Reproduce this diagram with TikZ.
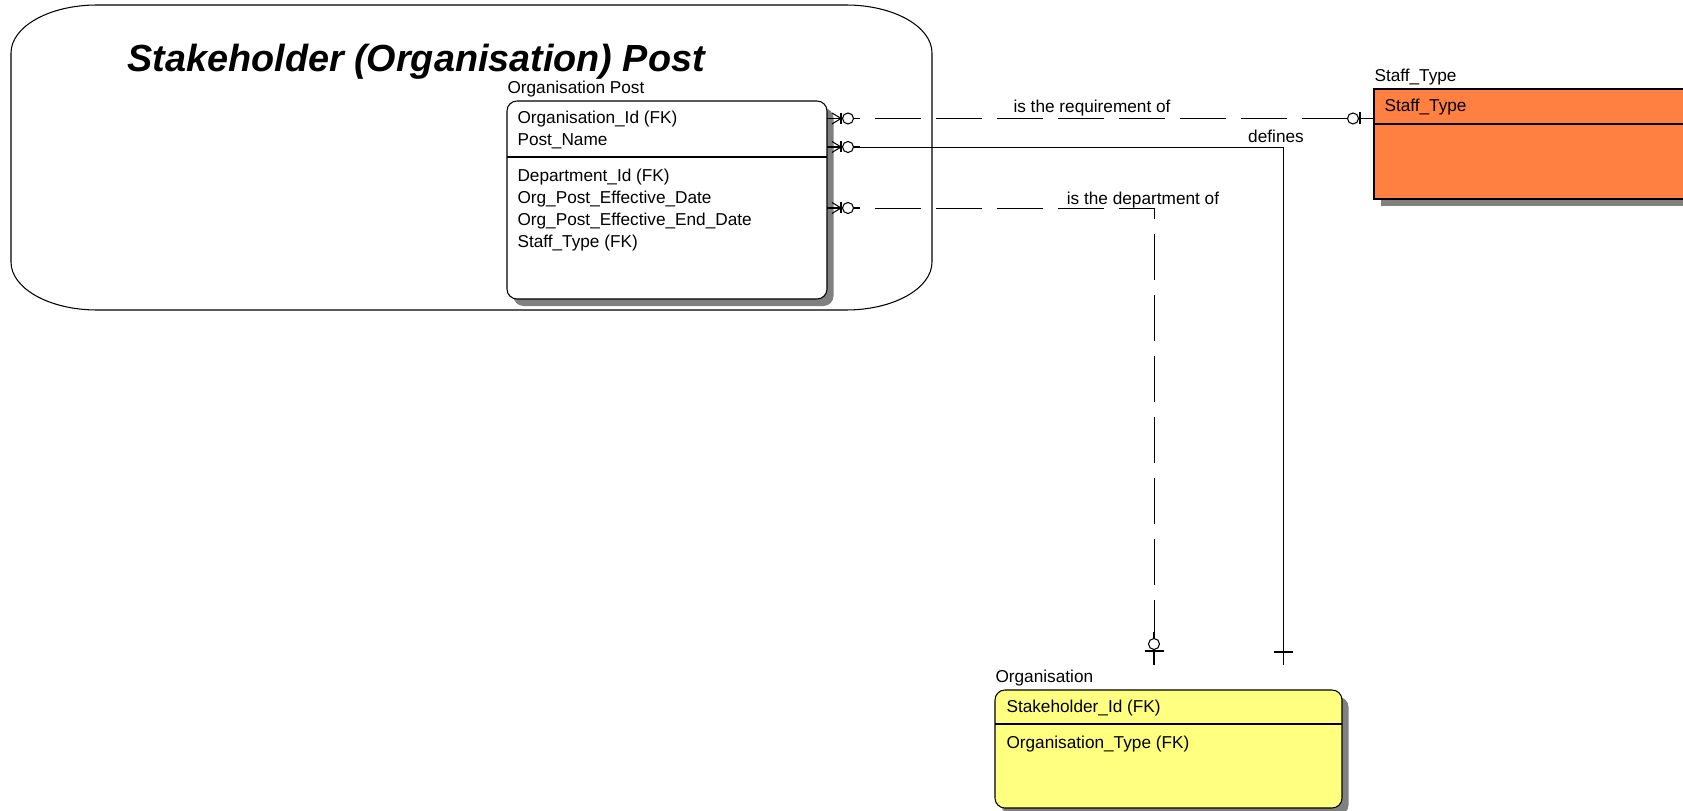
\documentclass[tikz,border=0pt]{standalone}
\usepackage{fontspec}
\setmainfont{Liberation Sans}
\usetikzlibrary{shadows,positioning}
\definecolor{stafforange}{RGB}{255,128,64}
\definecolor{orgyellow}{RGB}{255,255,128}

\tikzset{
  zmany/.pic={\draw (0,0) -- (33,0); \draw (5,5.5) -- (14,0) -- (5,-5.5); \draw (14,5.5) -- (14,-5.5); \draw [fill=white] (21,0) circle (5.5);},
  zone/.pic={\draw (0,0) -- (33,0); \draw (14,#1) -- (14,-#1); \draw [fill=white] (21,0) circle (5.5);},
  justone/.pic={\draw (13,#1) -- (13,-#1);}
}

\begin{document}
\begin{tikzpicture}[x=0.2mm,y=0.2mm,line width=0.6pt]
  \tikzstyle{entity}=[rectangle,draw,outer sep=0pt,inner sep=0pt,drop shadow={shadow xshift=1.3mm,shadow yshift=-1.4mm,fill=black!50,opacity=1}]
  \tikzstyle{attr}=[anchor=north west,inner sep=0pt,text height=8.95pt,text depth=2.95pt,font=\fontsize{9.8}{11}\selectfont]
  \tikzstyle{elabel}=[attr,anchor=south west,yshift=0.3mm]
  \tikzstyle{rlabel}=[attr,anchor=center]
  \tikzstyle{rel}=[draw,line width=0.5pt]
  \tikzstyle{reldash}=[rel,dash pattern=on 9.2mm off 3mm,dash phase=2.6mm]

  \useasboundingbox (0,0) rectangle (1683,-811);
  \clip (0,0) rectangle (1683,-811);

  % subject area
  \draw (11,-53) arc[start angle=180,end angle=90,x radius=86,y radius=48] -- (846,-5)
    arc[start angle=90,end angle=0,x radius=86,y radius=48] -- (932,-262)
    arc[start angle=0,end angle=-90,x radius=86,y radius=48] -- (97,-310)
    arc[start angle=270,end angle=180,x radius=86,y radius=48] -- cycle;
  \node [anchor=base west,inner sep=0pt,font=\fontsize{21.5}{24}\selectfont\bfseries\itshape] (areatitle) at (127,-72) {Stakeholder (Organisation) Post};

  % Organisation Post
  \node [entity,rounded corners=2mm,fill=white,minimum width=64mm,minimum height=39.6mm] (post) at (667,-200) {};
  \node [elabel] (postlbl) at (post.north west) {Organisation Post};
  \node [attr] (opid) at ([xshift=2mm,yshift=-1.3mm]post.north west) {Organisation\_Id (FK)};
  \node [attr] (pname) at (opid.south west) {Post\_Name};
  \node [attr] (deptid) at ([yshift=-2.8mm]pname.south west) {Department\_Id (FK)};
  \node [attr] (effdate) at (deptid.south west) {Org\_Post\_Effective\_Date};
  \node [attr] (enddate) at (effdate.south west) {Org\_Post\_Effective\_End\_Date};
  \node [attr] (stafffk) at (enddate.south west) {Staff\_Type (FK)};
  \draw (post.west |- 0,-157) -- (post.east |- 0,-157);

  % Staff_Type
  \node [entity,fill=stafforange,minimum width=71.2mm,minimum height=22mm] (stype) at (1552,-144) {};
  \node [elabel] (stypelbl) at (stype.north west) {Staff\_Type};
  \node [attr] (stypekey) at ([xshift=2mm,yshift=-1.3mm]stype.north west) {Staff\_Type};
  \draw (stype.west |- 0,-124) -- (stype.east |- 0,-124);

  % Organisation
  \node [entity,rounded corners=2mm,fill=orgyellow,minimum width=69.4mm,minimum height=23.6mm] (org) at (1168.5,-749) {};
  \node [elabel] (orglbl) at (org.north west) {Organisation};
  \node [attr] (stakeid) at ([xshift=2.2mm,yshift=-1.3mm]org.north west) {Stakeholder\_Id (FK)};
  \node [attr] (orgtype) at ([yshift=-2.8mm]stakeid.south west) {Organisation\_Type (FK)};
  \draw (org.west |- 0,-724) -- (org.east |- 0,-724);

  % relationships
  \coordinate (reqA) at (post.east |- opid);
  \coordinate (reqB) at (stype.west |- opid);
  \coordinate (defA) at (post.east |- 0,-147);
  \coordinate (defB) at (1283,-665);
  \coordinate (deptA) at (post.east |- 0,-208);
  \coordinate (deptB) at (1154,-665);

  \draw [reldash] (reqA) -- (reqB);   %requirement
  \draw [rel] (defA) -| (defB);       %defines
  \draw [reldash] (deptA) -| (deptB); %department

  \pic at (reqA) {zmany};
  \pic [rotate=180] at (reqB) {zone=6};
  \pic at (defA) {zmany};
  \pic at (deptA) {zmany};
  \pic [rotate=90] at (deptB) {zone=9.5};
  \pic [rotate=90] at (defB) {justone=9.5};

  \node [rlabel] (reqlbl) at (1092,-107) {is the requirement of};
  \node [rlabel] (deflbl) at (1276,-137.5) {defines};
  \node [rlabel] (deptlbl) at (1143,-199.5) {is the department of};
\end{tikzpicture}
\end{document}
